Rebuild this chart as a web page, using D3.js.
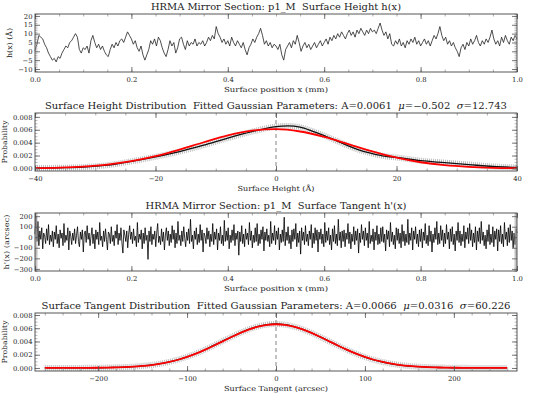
<!DOCTYPE html>
<html>
<head>
<meta charset="utf-8">
<script src="https://cdn.jsdelivr.net/npm/d3@7"></script>
<style>
  body { margin: 0; background: #fff; }
  text { font-family: "DejaVu Serif", serif; fill: #222; white-space: pre; }
</style>
</head>
<body>
<div id="container"></div>
<script>
let w = 538;
let h = 400;
let left = 35, right = 517, ph = 58;
let tops = [14, 113, 213, 313];

// DATA
// surface height h(x) in Angstrom, evenly sampled from x=0 to x=1 mm
let heightProfile = [
  0.5, 4, 9, 8, 7, 4,
  2, -1, -3, -5, -4, -6, -3,
  -4, -1, 1, 3, 2, 5, 6, 8,
  10, 8, 1, -1, 2,
  1, 3, -1, 6, 9,
  5, 2, 4, 1, 3, 0, -2,
  -3, 1, 4, 2, 5, 3, 6, 7,
  5, 8, 11, 9, 7,
  4, 6, 2, 0, 3, -2, -5,
  -2, 1, 6, 4, 7, 3, 8, 6,
  2, -1, -3, 1, 6, 3, 5, -1, 2, 7,
  8, 4, 1, 6, 3, 5, 4, 7, 3, 5,
  4, 6, 3, 5, 8, 6, 9, 7, 14, 10,
  8, 5, 7, 4, 6, 3, 8, 5, 3, 6,
  4, 2, 5, 1, -2, 2, 4, 7, 5, 8,
  10, 13, 9, 4, 6, 3, 5, 2, 4, 3,
  1, 4, -2, -5, 1, 3, 5, 2, 6, 4,
  9, 5, 0, 3, 5, 2, 4, 1, 3, 5,
  2, 4, 6, 3, 5, 7, 4, 8, 6, 9,
  7, 10, 8, 11, 9, 7, 10, 12, 9, 11,
  8, 12, 10, 13, 11, 9, 12, 10, 13, 11,
  12, 10, 13, 16, 12, 9, 11, 7, 10, 4,
  3, 6, 4, 7, 3, 5, 2, 6, 4, 7,
  5, 8, 4, 6, 3, 5, 7, 4, 6, 3,
  6, 9, 7, 10, 14, 9, 6, 8, 4, 6,
  3, 5, 2, 0, -3, 2, 4, 1, 5, 3,
  7, 4, 6, 9, 5, 3, 6, 4, 7, 5,
  8, 12, 7, 4, 6, 3, 8, 5, 9, 6,
  4, 8, 6, 9, 7
];

// surface tangent h'(x) in arcsec, evenly sampled from x=0 to x=1 mm
let tangentProfile = [
  30, 200, -40, 150, -80, 60, -20, 90, -110, 40, 10, -60, 80, -30, 120, -70, 20, -40, 60, -90,
  50, -20, 110, -60, 30, -100, 70, -10, 40, -80, 130, -50, 20, -30, 90, -120, 60, 10, -70, 40,
  -30, 80, -60, 20, 100, -40, -90, 50, -20, 70, -140, 30, 60, -50, 110, -20, 40, -80, 10, 90,
  -60, 30, -110, 70, -20, 50, -70, 140, -30, 10, -90, 60, -40, 80, -20, -120, 50, 30, -60, 100,
  -40, 20, -80, 60, -10, 120, -70, 40, -30, 90, -50, -150, 70, 20, -40, 60, -100, 30, 110, -20,
  50, -60, 80, -30, 10, -90, 140, -50, 30, -20, 70, -110, 40, -60, 90, -30, 20, -210, 60, -40,
  100, -70, 30, -20, 60, -90, 40, 130, -50, 10, -70, 80, -40, 50, -120, 20, 90, -30, 60, -80,
  30, -50, 110, -20, 70, -100, 40, -60, 150, -30, 20, -80, 60, -40, 100, -10, -90, 50, -30, 80,
  -60, 170, -40, 20, -110, 60, -20, 90, -70, 30, -50, 120, -30, 70, -140, 40, 10, -60, 90, -20,
  60, -90, 30, -40, 130, -70, 50, -20, 80, -120, 40, -30, 100, -60, 20, -80, 160, -40, 60, -30,
  90, -110, 20, -50, 70, -30, 120, -80, 40, -20, 60, -170, 50, -40, 110, -60, 30, -90, 80, -20,
  40, -70, 140, -30, 60, -100, 20, -50, 90, -40, 130, -80, 30, -60, 70, -20, 100, -130, 50, -30,
  80, -40, 20, -90, 150, -60, 40, -30, 110, -70, 60, -20, 90, -120, 30, -50, 70, -40, 190, -80,
  50, -30, 100, -60, 20, -110, 70, -40, 80, -20, 130, -90, 40, -50, 60, -160, 90, -30, 50, -70,
  110, -40, 30, -80, 60, -20, 120, -100, 40, -60, 90, -30, 70, -140, 50, -20, 80, -60, 30, -90,
  140, -50, 60, -30, 90, -70, 20, -120, 80, -40, 110, -60, 30, -80, 170, -30, 50, -100, 60, -40,
  70, -90, 40, -20, 130, -60, 50, -110, 30, -40, 100, -70, 60, -30, 80, -150, 40, -50, 120, -20,
  60, -80, 90, -30, 40, -100, 150, -60, 20, -40, 80, -120, 50, -30, 110, -70, 30, -60, 90, -40,
  100, -50, 30, -130, 70, -20, 60, -90, 140, -40, 50, -70, 20, -110, 90, -30, 80, -60, 40, -100,
  120, -40, 60, -80, 30, -50, 170, -70, 40, -30, 90, -120, 60, -20, 100, -60, 30, -90, 70, -40,
  80, -100, 50, -30, 130, -60, 20, -80, 110, -40, 60, -140, 30, -50, 90, -20, 150, -70, 40, -60,
  110, -30, 70, -90, 40, -60, 120, -20, 50, -110, 80, -40, 100, -70, 30, -130, 60, -30, 140, -50,
  60, -80, 30, -40, 110, -100, 50, -20, 90, -60, 130, -30, 70, -90, 40, -50, 100, -120, 60, -40,
  90, -60, 150, -30, 50, -80, 20, -110, 70, -40, 120, -70, 30, -50, 100, -90, 60, -20, 80, -130,
  70, -40, 110, -60, 30, -90, 140, -20, 50, -80, 90, -50, 120, -30, 60, -100, 40, -70, 80, 40
];

// height distribution
let heightBins = [-40, -36, -32, -28, -24, -20, -16, -12, -8, -4, 0, 2, 4, 6, 8, 10, 12, 14, 16, 18, 20, 24, 28, 32, 36, 40];
let heightHist = [0.00005, 0.0001, 0.0002, 0.0005, 0.0011, 0.0018, 0.0026, 0.0036, 0.0047, 0.0057, 0.0065, 0.0066, 0.0064, 0.0058, 0.0051, 0.0043, 0.0035, 0.0028, 0.0023, 0.0019, 0.0017, 0.0012, 0.0009, 0.0006, 0.0003, 0.00015];
let heightFitX = [-40, -36, -32, -28, -24, -20, -16, -12, -8, -4, 0, 4, 8, 12, 16, 20, 24, 28, 32, 36, 40];
let heightFit = [0.00005, 0.00013, 0.00029, 0.0006, 0.00112, 0.00189, 0.00291, 0.00406, 0.00513, 0.00587, 0.0061, 0.00573, 0.00488, 0.00377, 0.00264, 0.00167, 0.00096, 0.0005, 0.00024, 0.0001, 0.00004];

// tangent distribution, bins every 10 arcsec from -260 to 260
let tangentBins = d3.range(-260, 261, 10);
let tangentHist = [0, 0, 0, 0.00001, 0.00001, 0.00002, 0.00003, 0.00006, 0.00009, 0.00013, 0.0002, 0.00031, 0.00045, 0.00065, 0.00092, 0.00126, 0.00168, 0.00218, 0.00275, 0.0034, 0.00405, 0.0047, 0.00532, 0.00586, 0.00628, 0.00655, 0.00664,
  0.00654, 0.00626, 0.00583, 0.00528, 0.00466, 0.004, 0.00335, 0.00272, 0.00215, 0.00165, 0.00123, 0.0009, 0.00063, 0.00043, 0.00029, 0.00019, 0.00012, 0.00008, 0.00005, 0.00003, 0.00002, 0.00001, 0.00001, 0, 0, 0];
let tangentFit = [0, 0, 0, 0, 0.00001, 0.00002, 0.00003, 0.00005, 0.00008, 0.00012, 0.00019, 0.0003, 0.00044, 0.00064, 0.00091, 0.00124, 0.00166, 0.00216, 0.00273, 0.00336, 0.00402, 0.00467, 0.00529, 0.00583, 0.00624, 0.00651, 0.0066,
  0.00651, 0.00624, 0.00583, 0.00529, 0.00467, 0.00402, 0.00336, 0.00273, 0.00216, 0.00166, 0.00124, 0.00091, 0.00064, 0.00044, 0.0003, 0.00019, 0.00012, 0.00008, 0.00005, 0.00003, 0.00002, 0.00001, 0, 0, 0, 0];

// ticks
let positionTicks = [0, 0.2, 0.4, 0.6, 0.8, 1.0];
let heightTicksY = [-10, -5, 0, 5, 10, 15, 20];
let probTicks = [0, 0.002, 0.004, 0.006, 0.008];
let heightTicksX = [-40, -20, 0, 20, 40];
let tangentTicksY = [-300, -200, -100, 0, 100, 200];
let tangentTicksX = [-200, -100, 0, 100, 200];

// SVG
let viz = d3.select("#container").append("svg")
  .attr("width", w)
  .attr("height", h)
  .style("background-color", "white");

function tickSet(axis, tr, vals, size, color) {
  let g = viz.append("g").attr("transform", tr)
    .call(axis.tickValues(vals).tickSize(size).tickFormat(""));
  g.select(".domain").remove();
  g.selectAll("line").attr("stroke", color).attr("stroke-width", 0.8);
}

function frame(x, y, o) {
  let top = y.range()[1], bottom = y.range()[0];
  // minor ticks, all four sides
  tickSet(d3.axisBottom(x), `translate(0,${bottom})`, o.xMinor, -2.5, "#999");
  tickSet(d3.axisTop(x), `translate(0,${top})`, o.xMinor, -2.5, "#999");
  tickSet(d3.axisLeft(y), `translate(${left},0)`, o.yMinor, -2.5, "#aaa");
  tickSet(d3.axisRight(y), `translate(${right},0)`, o.yMinor, -2.5, "#aaa");
  tickSet(d3.axisTop(x), `translate(0,${top})`, o.xTicks, -5, "#555");
  tickSet(d3.axisRight(y), `translate(${right},0)`, o.yTicks, -5, "#555");

  let bx = viz.append("g").attr("transform", `translate(0,${bottom})`)
    .call(d3.axisBottom(x).tickValues(o.xTicks).tickSize(-5).tickPadding(5).tickFormat(o.xFmt));
  let ly = viz.append("g").attr("transform", `translate(${left},0)`)
    .call(d3.axisLeft(y).tickValues(o.yTicks).tickSize(-5).tickPadding(2.5).tickFormat(o.yFmt));
  [bx, ly].forEach(function (g) {
    g.select(".domain").remove();
    g.selectAll("line").attr("stroke", "#555").attr("stroke-width", 0.8);
    g.selectAll("text").style("font-family", '"DejaVu Serif", serif').style("font-size", "6.8px").attr("fill", "#222");
  });

  viz.append("rect")
    .attr("x", left).attr("y", top)
    .attr("width", right - left).attr("height", bottom - top)
    .attr("fill", "none").attr("stroke", "#444").attr("stroke-width", 0.9);

  // titles
  let t = viz.append("text")
    .attr("x", (left + right) / 2).attr("y", top - 4)
    .attr("text-anchor", "middle")
    .attr("textLength", o.titleLen).attr("lengthAdjust", "spacingAndGlyphs")
    .style("font-size", "8.5px");
  o.title.forEach(function (part) {
    t.append("tspan").text(part[0]).style("font-style", part[1] ? "italic" : "normal");
  });

  viz.append("text")
    .attr("x", (left + right) / 2).attr("y", bottom + 20)
    .attr("text-anchor", "middle")
    .attr("textLength", o.xLabelLen).attr("lengthAdjust", "spacingAndGlyphs")
    .style("font-size", "7px")
    .text(o.xLabel);

  viz.append("text")
    .attr("transform", `translate(${o.yLabelX},${(top + bottom) / 2}) rotate(-90)`)
    .attr("text-anchor", "middle")
    .attr("textLength", o.yLabelLen).attr("lengthAdjust", "spacingAndGlyphs")
    .style("font-size", "7px")
    .text(o.yLabel);
}

function zeroLine(x, y) {
  viz.append("line")
    .attr("x1", x(0)).attr("x2", x(0))
    .attr("y1", y.range()[1]).attr("y2", y.range()[0])
    .attr("stroke", "#666").attr("stroke-width", 0.8)
    .attr("stroke-dasharray", "4,3");
}

function distribution(x, y, bins, hist, fitX, fit) {
  let histLine = d3.line().x(function (d, i) { return x(bins[i]); }).y(function (d) { return y(d); }).curve(d3.curveMonotoneX);
  let fitLine = d3.line().x(function (d, i) { return x(fitX[i]); }).y(function (d) { return y(d); }).curve(d3.curveMonotoneX);
  // gray cloud of histogram points
  viz.append("path").attr("d", histLine(hist))
    .attr("fill", "none").attr("stroke", "#aaa").attr("stroke-width", 6)
    .attr("stroke-dasharray", "1,1").attr("opacity", 0.75);
  viz.append("path").attr("d", histLine(hist))
    .attr("fill", "none").attr("stroke", "#111").attr("stroke-width", 1.3);
  viz.append("path").attr("d", fitLine(fit))
    .attr("fill", "none").attr("stroke", "#ff0000").attr("stroke-width", 1.8);
}

// PANEL 1: surface height profile
let x1 = d3.scaleLinear().domain([0, 1]).range([left, right]);
let y1 = d3.scaleLinear().domain([-11.7, 21.1]).range([tops[0] + ph, tops[0]]);
let profile1 = d3.line()
  .x(function (d, i) { return x1(i / (heightProfile.length - 1)); })
  .y(function (d) { return y1(d); });
viz.append("path").attr("d", profile1(heightProfile))
  .attr("fill", "none").attr("stroke", "#222").attr("stroke-width", 0.8);
frame(x1, y1, {
  xTicks: positionTicks, xMinor: d3.range(0, 1.0001, 0.05), xFmt: d3.format(".1f"),
  yTicks: heightTicksY, yMinor: d3.range(-11, 21.5, 1), yFmt: d3.format("d"),
  title: [["HRMA Mirror Section: p1_M  Surface Height h(x)", false]], titleLen: 250,
  xLabel: "Surface position x (mm)", xLabelLen: 104,
  yLabel: "h(x) (Å)", yLabelLen: 30, yLabelX: 12
});

// PANEL 2: surface height distribution
let x2 = d3.scaleLinear().domain([-40, 40]).range([left, right]);
let y2 = d3.scaleLinear().domain([-0.0004, 0.0086]).range([tops[1] + ph, tops[1]]);
zeroLine(x2, y2);
distribution(x2, y2, heightBins, heightHist, heightFitX, heightFit);
frame(x2, y2, {
  xTicks: heightTicksX, xMinor: d3.range(-40, 40.1, 5), xFmt: d3.format("d"),
  yTicks: probTicks, yMinor: d3.range(0, 0.0086, 0.0005), yFmt: d3.format(".3f"),
  title: [["Surface Height Distribution  Fitted Gaussian Parameters: A=0.0061  ", false], ["μ", true], ["=−0.502  ", false], ["σ", true], ["=12.743", false]], titleLen: 462,
  xLabel: "Surface Height (Å)", xLabelLen: 77,
  yLabel: "Probability", yLabelLen: 43, yLabelX: 7
});

// PANEL 3: surface tangent profile
let x3 = d3.scaleLinear().domain([0, 1]).range([left, right]);
let y3 = d3.scaleLinear().domain([-320, 230]).range([tops[2] + ph, tops[2]]);
let profile3 = d3.line()
  .x(function (d, i) { return x3(i / (tangentProfile.length - 1)); })
  .y(function (d) { return y3(d); });
viz.append("path").attr("d", profile3(tangentProfile))
  .attr("fill", "none").attr("stroke", "#000").attr("stroke-width", 0.8);
frame(x3, y3, {
  xTicks: positionTicks, xMinor: d3.range(0, 1.0001, 0.05), xFmt: d3.format(".1f"),
  yTicks: tangentTicksY, yMinor: d3.range(-320, 231, 10), yFmt: d3.format("d"),
  title: [["HRMA Mirror Section: p1_M  Surface Tangent h'(x)", false]], titleLen: 261,
  xLabel: "Surface position x (mm)", xLabelLen: 104,
  yLabel: "h'(x) (arcsec)", yLabelLen: 55, yLabelX: 9
});

// PANEL 4: surface tangent distribution
let x4 = d3.scaleLinear().domain([-271, 271]).range([left, right]);
let y4 = d3.scaleLinear().domain([-0.00046, 0.0083]).range([tops[3] + ph, tops[3]]);
zeroLine(x4, y4);
distribution(x4, y4, tangentBins, tangentHist, tangentBins, tangentFit);
frame(x4, y4, {
  xTicks: tangentTicksX, xMinor: d3.range(-260, 261, 20), xFmt: d3.format("d"),
  yTicks: probTicks, yMinor: d3.range(0, 0.0083, 0.0005), yFmt: d3.format(".3f"),
  title: [["Surface Tangent Distribution  Fitted Gaussian Parameters: A=0.0066  ", false], ["μ", true], ["=0.0316  ", false], ["σ", true], ["=60.226", false]], titleLen: 469,
  xLabel: "Surface Tangent (arcsec)", xLabelLen: 104,
  yLabel: "Probability", yLabelLen: 43, yLabelX: 7
});
</script>
</body>
</html>
